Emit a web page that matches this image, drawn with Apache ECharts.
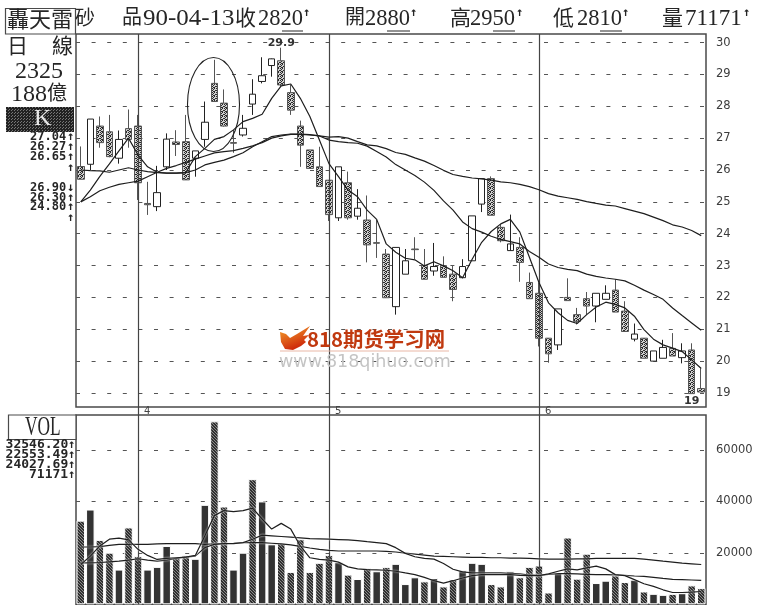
<!DOCTYPE html>
<html><head><meta charset="utf-8">
<style>html,body{margin:0;padding:0;background:#fff}#c{width:758px;height:612px}</style>
<script src="https://cdn.jsdelivr.net/npm/echarts@6/dist/echarts.min.js"></script>
</head><body><div id="c"></div>
<script>
// ---- data ----
const monthStart = [6, 26, 48];
const monthLabels = ['4', '5', '6'];
const priceTicks = [19,20,21,22,23,24,25,26,27,28,29,30];
const opens  = [26.11,26.18,27.38,27.2,26.37,27.3,27.38,24.95,24.85,26.1,26.88,26.89,26.37,26.96,28.72,28.1,26.86,27.1,28.07,28.78,29.28,29.43,28.43,27.38,26.63,26.1,25.68,24.5,25.6,24.55,24.43,23.72,23.36,21.71,22.73,23.52,23.0,22.83,23.0,22.73,22.62,23.15,24.93,25.73,24.2,23.47,23.57,22.47,22.13,20.72,20.51,22.0,21.46,21.96,21.73,21.94,22.23,21.57,20.69,20.72,20.0,20.09,20.4,20.11,20.35,19.14];
const closes = [25.71,27.6,26.86,26.42,26.96,26.96,25.6,24.91,25.29,26.97,26.8,25.69,26.6,27.5,28.15,27.38,26.84,27.31,28.38,28.96,29.49,28.67,27.88,26.78,26.05,25.48,24.6,26.1,24.5,24.8,23.65,23.7,21.99,23.57,23.15,23.5,22.57,22.97,22.63,22.25,22.97,24.56,25.73,24.58,23.78,23.68,23.1,21.96,20.72,20.23,21.64,21.9,21.25,21.73,22.13,22.13,21.54,20.93,20.85,20.09,20.32,20.43,20.16,20.32,18.98,19.03];
const lows   = [25.71,26.0,26.7,26.4,26.2,26.7,25.06,24.59,24.71,26.0,26.44,25.69,25.79,26.73,28.15,27.36,26.54,27.05,27.73,28.72,28.93,28.62,27.73,26.1,26.05,25.48,24.4,24.4,24.44,24.44,23.1,23.24,21.99,21.46,22.73,23.2,22.57,22.68,22.63,21.88,22.6,23.15,24.68,24.58,23.73,23.68,22.49,21.96,20.46,19.95,20.35,21.9,21.15,21.46,21.22,21.94,21.54,20.93,20.62,20.09,20.0,20.09,20.16,19.93,18.98,19.03];
const highs  = [26.74,27.6,27.68,27.73,27.24,27.9,27.73,25.63,26.13,27.15,27.25,27.73,26.6,28.15,29.46,28.53,27.26,27.73,28.85,29.54,29.5,29.84,28.67,27.55,26.63,26.73,25.68,26.1,25.95,25.4,25.2,24.43,23.52,23.57,23.52,23.89,23.52,23.71,23.29,23.0,23.2,24.56,25.73,25.8,24.3,24.6,23.89,22.78,22.47,20.72,21.64,22.6,21.67,22.17,22.13,22.38,22.57,21.88,21.18,20.72,20.32,20.67,20.88,20.56,20.56,19.77];
const maShort = [25.0,25.37,25.8,26.19,26.6,27.0,26.47,26.1,25.93,25.9,25.9,25.92,26.42,26.68,26.96,27.05,27.26,27.52,27.62,27.75,28.25,28.64,28.7,28.25,27.68,26.94,26.2,25.79,25.37,25.16,24.74,24.45,23.68,23.42,23.23,23.18,22.99,23.12,22.99,22.84,22.62,23.2,23.73,24.07,24.31,24.45,24.05,23.26,22.47,21.83,21.52,21.28,21.18,21.46,21.7,21.85,21.78,21.67,21.41,20.99,20.69,20.51,20.41,20.3,20.04,19.77];
const maMid = [25.0,25.16,25.35,25.46,25.55,25.6,25.65,25.79,25.93,26.05,26.14,26.24,26.34,26.44,26.54,26.58,26.61,26.68,26.76,26.86,27.0,27.07,27.12,27.12,27.1,27.07,26.94,26.89,26.86,26.84,26.75,26.58,26.41,26.17,26.0,25.83,25.62,25.36,25.03,24.74,24.37,24.16,24.05,23.92,23.82,23.75,23.68,23.44,23.26,23.05,22.94,22.88,22.84,22.73,22.66,22.61,22.57,22.52,22.38,22.23,22.09,21.94,21.67,21.43,21.2,20.97];
const maLong = [26.0,25.98,25.97,25.93,26.0,26.07,26.0,25.95,25.92,25.9,25.9,25.92,26.0,26.16,26.24,26.31,26.42,26.54,26.73,26.89,27.05,27.1,27.13,27.13,27.11,27.07,27.03,27.05,27.0,26.89,26.79,26.76,26.67,26.55,26.49,26.38,26.28,26.14,25.99,25.86,25.8,25.75,25.72,25.68,25.63,25.6,25.55,25.48,25.38,25.26,25.18,25.13,25.08,25.01,24.95,24.9,24.87,24.79,24.71,24.63,24.52,24.41,24.28,24.21,24.1,23.94];
const volumes = [32540,36870,25060,20070,13510,29900,18760,13510,14560,22700,18370,19150,17700,38700,71171,38050,13510,20070,48680,40020,23350,23750,12600,25320,12600,16140,19150,16400,11550,9840,14170,12860,14560,15740,7870,10500,8920,10230,6950,9840,13250,16140,15740,7870,6950,12860,10500,14560,15090,4590,12200,25980,9970,19680,8270,9180,11280,8660,9580,4990,4070,3670,4070,4330,7350,6300];
const volSolid = [0,1,0,0,1,0,0,1,1,1,0,0,1,1,0,0,1,1,0,1,1,0,0,0,0,0,0,1,0,1,0,1,0,1,1,1,0,1,0,0,1,1,1,0,0,1,0,0,0,0,1,0,0,0,1,1,0,0,1,0,1,1,0,1,0,0];
const volMaShort = [15480,18760,22700,25320,25720,25060,21390,19020,17450,17840,18110,18370,19020,26630,34510,36470,36080,36470,37390,33190,29260,31490,29260,22700,18110,17450,17190,16400,14560,13780,13510,13380,13250,12860,12200,11550,10500,9180,8270,9180,10230,11150,11550,11550,11550,11550,11280,11150,11150,11810,12860,13780,13380,14170,14830,13780,11550,11150,9580,8000,6950,5640,4590,4590,4720,4990];
const volMaMid = [16140,16140,16270,16530,16790,17190,17710,17190,16790,17190,17840,18370,18760,22040,23350,23620,23620,24010,25320,26900,26630,26370,26110,25850,25580,25450,25320,25190,25060,24800,24400,24010,23620,22040,19810,18500,17840,17580,15880,13640,12600,12200,12200,12200,12200,12070,11810,11410,11280,11680,11940,11940,11810,11680,11550,11550,11410,11280,11020,10890,10500,10100,9710,9580,9450,9320];
const volMaLong = [22300,22300,22430,22960,23350,23350,23350,23350,23480,23620,23620,23620,23620,23350,23480,23620,23750,24010,24010,24010,23750,23480,23090,22570,21910,21390,20990,20730,20730,20730,20730,20730,20600,20340,19940,19550,19160,18760,18630,18500,18370,18240,18240,18110,18110,17970,17970,17840,17710,17580,17580,17580,17710,17710,17840,17840,17840,17840,17840,17580,17190,16790,16400,16010,15740,15480];
const categories = opens.map((_, i) => { const k = monthStart.indexOf(i); return k >= 0 ? monthLabels[k] : ''; });

// ---- dither patterns ----
function dither(size, dark, light, cells) {
  const c = document.createElement('canvas'); c.width = c.height = size;
  const g = c.getContext('2d'); g.fillStyle = light; g.fillRect(0, 0, size, size);
  g.fillStyle = dark; cells.forEach(p => g.fillRect(p[0], p[1], 1, 1));
  return { image: c, repeat: 'repeat' };
}
const candleStipple = dither(4, '#2a2a2a', '#cfcfcf', [[0,0],[2,0],[1,1],[3,2],[0,2],[2,3],[1,3]]);
const volStipple = dither(3, '#303030', '#8c8c8c', [[0,0],[1,0],[1,1],[2,1],[0,2],[2,2]]);
const kStipple = dither(3, '#222', '#777', [[0,0],[1,0],[2,0],[1,1],[2,1],[0,2],[1,2]]);

const INK = '#262626', RULE = '#4a4a4a';
const grids = [
  { left: 76, right: 52, top: 34, height: 373, show: true, borderColor: RULE, borderWidth: 1.5, backgroundColor: 'transparent' },
  { left: 76, right: 52, top: 415, height: 189.3, show: true, borderColor: RULE, borderWidth: 1.5, backgroundColor: 'transparent' }
];
const dash = { color: '#555', width: 1, type: [4, 11.6] };
const axisText = { color: '#3c3c3c', fontFamily: 'DejaVu Sans', fontSize: 11.5, margin: 10 };
const vlines = { silent: true, symbol: 'none', animation: false, label: { show: false },
  lineStyle: { color: '#444', width: 1.2, type: 'solid' }, data: monthStart.map(i => ({ xAxis: i })) };
const priceLine = (d) => ({ type: 'line', data: d, xAxisIndex: 0, yAxisIndex: 0, symbol: 'none', smooth: false, silent: true,
  lineStyle: { color: '#1e1e1e', width: 1.2 }, z: 5 });
const volLine = (d) => ({ type: 'line', data: d, xAxisIndex: 1, yAxisIndex: 1, symbol: 'none', smooth: false, silent: true,
  lineStyle: { color: '#1e1e1e', width: 1.2, shadowColor: '#fff', shadowBlur: 2 }, z: 5 });

// ---- page texts ----
const serif = '"Liberation Serif","Noto Sans CJK TC"';
const mono = '"DejaVu Sans Mono"';
function T(x, y, text, size, family, extra) {
  return Object.assign({ type: 'text', x, y, z: 60, silent: true,
    style: { text, fontSize: size, fontFamily: family, fill: (extra && extra.fill) || INK, verticalAlign: 'middle', align: (extra && extra.align) || 'left', fontWeight: (extra && extra.weight) || 'normal' } }, extra && extra.attr);
}
function R(x, y, w, h, fill) { return { type: 'rect', z: 55, silent: true, shape: { x, y, width: w, height: h }, style: { fill: fill || '#fff', stroke: RULE, lineWidth: 1.2 } }; }
function L(x1, y1, x2, y2, w) { return { type: 'line', z: 60, silent: true, shape: { x1, y1, x2, y2 }, style: { stroke: INK, lineWidth: w || 1 } }; }
const upMark = (x, y) => T(x, y, '↑', 12, mono, { weight: 'bold' });
const priceStats = [[137,'27.04','↑'],[147,'26.27','↑'],[157,'26.65','↑'],[168,'','↑'],[188,'26.90','↓'],[198,'26.30','↑'],[207,'24.80','↑'],[218,'','↑']];
const volStats = [[445,'32546.20'],[455,'22553.49'],[465,'24027.69'],[475,'71171']];
const graphics = [
  R(5.5, 8.5, 70, 25.5, '#fff'),
  T(7, 21, '轟天雷', 22, serif), T(75, 20, '砂', 20, serif),
  T(122, 19, '品', 20, serif), T(143, 19, '90-04-13', 23, serif, { attr: { scaleX: 1.085 } }), T(235, 19, '收', 21, serif), T(258, 19, '2820', 22.5, serif), upMark(303, 13),
  T(345, 19, '開', 20, serif), T(365, 19, '2880', 22.5, serif), upMark(410, 13),
  T(450, 19, '高', 21, serif), T(470, 19, '2950', 22.5, serif), upMark(516, 13),
  T(553, 19, '低', 21, serif), T(577, 19, '2810', 22.5, serif), upMark(622, 13),
  T(662, 19, '量', 21, serif), T(685, 19, '71171', 23, serif), upMark(743, 13),
  L(282, 31, 303, 31), L(387, 31, 410, 31), L(493, 31, 515, 31), L(600, 31, 622, 31),
  T(7, 47, '日', 21, serif), T(52, 47, '線', 21, serif),
  T(15, 72, '2325', 24, serif), T(11, 95, '188', 24, serif), T(47, 95, '億', 20, serif),
  { type: 'rect', z: 55, silent: true, shape: { x: 6, y: 107, width: 68, height: 25 }, style: { fill: kStipple } },
  T(34, 119, 'K', 24, serif, { fill: '#e8e8e8' }),
  R(8.5, 415, 67.5, 24.5, '#fff'),
  { type: 'text', z: 60, silent: true, x: 25, y: 428, scaleX: 0.62, style: { text: 'VOL', fontSize: 28, fontFamily: serif, fill: INK, verticalAlign: 'middle' } },
  // highlight ring
  { type: 'ellipse', z: 20, silent: true, shape: { cx: 213.5, cy: 104.5, rx: 26, ry: 47 }, style: { fill: 'none', stroke: '#222', lineWidth: 1.1 } },
  // watermark
  { type: 'polygon', z: 30, silent: true, shape: { points: [[280,332],[286,334],[290,338],[297,334],[310,326],[303,336],[309,335],[304,340],[306,342],[301,346],[293,350],[285,349],[281,342]] },
    style: { fill: { type: 'linear', x: 0, y: 0, x2: 0.3, y2: 1, colorStops: [{ offset: 0, color: '#f6a52c' }, { offset: 1, color: '#cf2d0c' }] } } },
  T(307, 339.5, '818期货学习网', 20.4, '"Noto Sans CJK SC"', { weight: 'bold', fill: '#c0390f' }),
  { type: 'line', z: 30, silent: true, shape: { x1: 280, y1: 351, x2: 449, y2: 351 }, style: { stroke: '#e9b7a6', lineWidth: 1 } },
  T(279, 362, 'www.818qihuo.com', 17.5, 'DejaVu Sans', { fill: '#c4c4c4' })
];
priceStats.forEach(r => { if (r[1]) graphics.push(T(30, r[0], r[1], 12, mono, { weight: 'bold' })); graphics.push(T(67, r[0], r[2], 12, mono, { weight: 'bold' })); });
volStats.forEach(r => { const s = r[1]; graphics.push(T(68 - s.length * 7.8, r[0], s, 13, mono, { weight: 'bold' })); graphics.push(upMark(68, r[0])); });

const option = {
  animation: false,
  backgroundColor: '#fff',
  grid: grids,
  xAxis: [0, 1].map(g => ({
    type: 'category', gridIndex: g, data: categories, boundaryGap: true,
    axisLine: { show: false },
    axisTick: g === 0 ? { show: true, alignWithLabel: true, length: 8, lineStyle: { color: '#444', width: 1.2 }, interval: (i) => monthStart.includes(i) } : { show: false },
    axisLabel: g === 0 ? { show: true, interval: (i) => monthStart.includes(i), align: 'left', margin: -1, padding: [0, 0, 0, 6], color: '#444', fontSize: 10, fontFamily: 'DejaVu Sans' } : { show: false },
    splitLine: { show: false }
  })),
  yAxis: [
    { type: 'value', gridIndex: 0, position: 'right', min: 18.56, max: 30.27, scale: true,
      axisLine: { show: false }, axisTick: { show: false, customValues: priceTicks },
      axisLabel: Object.assign({ customValues: priceTicks, formatter: v => String(v) }, axisText),
      splitLine: { show: true, lineStyle: dash } },
    { type: 'value', gridIndex: 1, position: 'right', min: 0, max: 73650, interval: 20000,
      axisLine: { show: false }, axisTick: { show: false },
      axisLabel: Object.assign({ showMaxLabel: false, showMinLabel: false, formatter: v => String(v) }, axisText),
      splitLine: { show: true, showMinLine: false, showMaxLine: false, lineStyle: dash } }
  ],
  series: [
    { type: 'candlestick', xAxisIndex: 0, yAxisIndex: 0, barWidth: 7, silent: true,
      data: opens.map((o, i) => [o, closes[i], lows[i], highs[i]]),
      itemStyle: { color: '#fff', color0: candleStipple, borderColor: '#222', borderColor0: '#555', borderWidth: 1 },
      markLine: vlines,
      markPoint: { silent: true, symbol: 'circle', symbolSize: 0, animation: false,
        label: { show: true, formatter: '{b}', color: '#333', fontFamily: 'DejaVu Sans', fontWeight: 'bold', fontSize: 11 },
        data: [{ name: '29.9', coord: [21, 29.97] }, { name: '19', coord: [64, 18.75] }] } },
    priceLine(maLong), priceLine(maMid), priceLine(maShort),
    { type: 'bar', xAxisIndex: 1, yAxisIndex: 1, barWidth: 8.5, silent: true,
      data: volumes.map((v, i) => ({ value: v, itemStyle: { color: volSolid[i] ? '#333' : volStipple } })),
      itemStyle: { borderColor: '#fff', borderWidth: 1 },
      markLine: vlines },
    volLine(volMaLong), volLine(volMaMid), volLine(volMaShort)
  ],
  graphic: { elements: graphics }
};
const chart = echarts.init(document.getElementById('c'), null, { renderer: 'canvas' });
chart.setOption(option);
</script>
</body></html>
